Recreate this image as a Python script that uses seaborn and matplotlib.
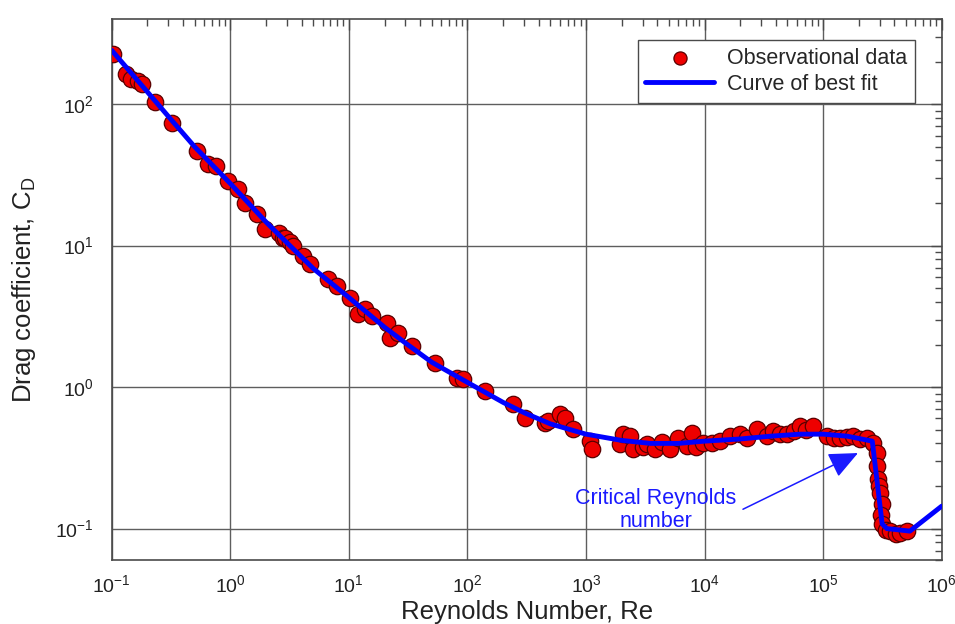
import matplotlib
matplotlib.use("Agg")
import matplotlib.pyplot as plt
import seaborn as sns
import pandas as pd
from matplotlib.ticker import FixedLocator, NullFormatter

# Measured drag coefficients of a sphere
re_obs = [0.102, 0.131, 0.145, 0.166, 0.179, 0.231, 0.321, 0.521, 0.645, 0.755,
          0.953, 1.16, 1.32, 1.67, 1.96, 2.57, 2.77, 2.88, 3.2, 3.37,
          4.09, 4.69, 6.65, 7.93, 10.2, 11.9, 13.6, 15.6, 20.9, 22.2,
          25.9, 34.0, 53.2, 81.5, 91.6, 141, 242, 306, 451, 480,
          604, 660, 777, 1080, 1125, 1940, 2050, 2350, 2490, 3000,
          3270, 3820, 4400, 5110, 5970, 7110, 7850, 8500, 9710, 11500,
          13500, 16400, 19900, 23000, 27700, 33700, 37800, 43000, 49700, 57000,
          64000, 72000, 82400, 108000, 124000, 139000, 158000, 179000, 205000, 235000,
          264000, 286000, 286000, 291000, 295000, 303000, 315000, 310000, 315000, 340000,
          368000, 410000, 447000, 512000]
cd_obs = [225, 163, 150, 145, 138, 103, 73, 47, 38, 36.5,
          28.6, 25, 20, 16.7, 13.1, 12.3, 11.3, 11.3, 10.6, 9.9,
          8.4, 7.4, 5.8, 5.17, 4.26, 3.28, 3.56, 3.17, 2.83, 2.22,
          2.41, 1.95, 1.48, 1.16, 1.14, 0.937, 0.758, 0.604, 0.557, 0.58,
          0.644, 0.60, 0.505, 0.415, 0.365, 0.396, 0.465, 0.451, 0.365, 0.38,
          0.396, 0.365, 0.41, 0.365, 0.436, 0.383, 0.474, 0.38, 0.402, 0.40,
          0.415, 0.451, 0.466, 0.44, 0.505, 0.451, 0.489, 0.47, 0.466, 0.49,
          0.530, 0.50, 0.530, 0.451, 0.44, 0.436, 0.445, 0.451, 0.43, 0.436,
          0.402, 0.342, 0.277, 0.224, 0.20, 0.178, 0.149, 0.125, 0.108, 0.098,
          0.096, 0.092, 0.093, 0.096]

# Curve of best fit, sampled along Re
re_fit = [0.1, 0.2, 0.3, 0.5, 1, 2, 3, 5, 10, 20, 30, 50, 100, 200, 300, 500,
          1000, 2000, 3500, 6000, 1e4, 2e4, 3.6e4, 6.4e4, 1e5, 1.6e5, 2.6e5,
          3.15e5, 3.45e5, 5.4e5, 1e6]
cd_fit = [240, 122, 82, 50, 27.5, 14.7, 10.5, 6.9, 4.3, 2.65, 2.05, 1.5, 1.08,
          0.78, 0.66, 0.55, 0.465, 0.42, 0.40, 0.40, 0.415, 0.43, 0.45, 0.465,
          0.465, 0.45, 0.415, 0.108, 0.100, 0.096, 0.144]

# Decade ticks shown on each axis
x_decades = [-1, 0, 1, 2, 3, 4, 5, 6]
y_decades = [-1, 0, 1, 2]

obs = pd.DataFrame({"Re": re_obs, "CD": cd_obs})
fit = pd.DataFrame({"Re": re_fit, "CD": cd_fit})

sns.set_theme(style="white")
plt.rcParams["font.family"] = ["Liberation Sans", "DejaVu Sans"]
plt.rcParams["mathtext.fontset"] = "custom"
plt.rcParams["mathtext.rm"] = "Liberation Sans"
plt.rcParams["mathtext.it"] = "Liberation Sans:italic"
plt.rcParams["mathtext.bf"] = "Liberation Sans:bold"

fig = plt.figure(figsize=(9.55, 6.24), dpi=100)
ax = fig.add_axes([0.117, 0.1026, 0.869, 0.867])

sns.scatterplot(data=obs, x="Re", y="CD", ax=ax, s=140, color="#ee0000",
                edgecolor="#5a0000", linewidth=0.9, zorder=3,
                label="Observational data")
sns.lineplot(data=fit, x="Re", y="CD", ax=ax, sort=False, estimator=None,
             color="#0000ff", linewidth=3.5, zorder=4, label="Curve of best fit")

ax.set_xscale("log")
ax.set_yscale("log")
ax.set_xlim(0.1, 1e6)
ax.set_ylim(0.06, 400)


def minor_positions(lo, hi, exps):
    vals = []
    for e in exps:
        for m in range(2, 10):
            v = m * 10.0 ** e
            if lo <= v <= hi:
                vals.append(v)
    return vals


ax.xaxis.set_major_locator(FixedLocator([10.0 ** e for e in x_decades]))
ax.yaxis.set_major_locator(FixedLocator([10.0 ** e for e in y_decades]))
ax.xaxis.set_minor_locator(FixedLocator(minor_positions(0.1, 1e6, range(-1, 6))))
ax.yaxis.set_minor_locator(FixedLocator(minor_positions(0.06, 400, range(-2, 3))))
ax.set_xticklabels([rf"$\mathregular{{10^{{{e}}}}}$" for e in x_decades])
ax.set_yticklabels([rf"$\mathregular{{10^{{{e}}}}}$" for e in y_decades])
ax.xaxis.set_minor_formatter(NullFormatter())
ax.yaxis.set_minor_formatter(NullFormatter())

ax.grid(True, which="major", color="#5e5e5e", linewidth=1.0)
ax.grid(False, which="minor")
for sp in ax.spines.values():
    sp.set_visible(True)
    sp.set_color("#4a4a4a")
    sp.set_linewidth(1.2)

ax.tick_params(which="both", direction="in", top=True, right=True,
               color="#4a4a4a", labelsize=14, labelcolor="#222222")
ax.tick_params(which="major", length=8, width=1.0)
ax.tick_params(axis="x", which="major", pad=10)
ax.tick_params(axis="y", which="major", pad=13)
ax.tick_params(which="minor", length=5, width=1.0)

ax.set_xlabel("Reynolds Number, Re", fontsize=18.5, color="#222222", labelpad=3)
ax.set_ylabel(r"Drag coefficient, C$_\mathrm{D}$", fontsize=18.5,
              color="#222222", labelpad=12)

ax.annotate("", xy=(197000, 0.342), xytext=(21100, 0.137),
            arrowprops=dict(arrowstyle="-|>,head_length=0.9,head_width=0.4",
                            color="#1a1aff", lw=1.1, mutation_scale=20,
                            shrinkA=0, shrinkB=0), zorder=5)
ax.text(3900, 0.135, "Critical Reynolds\nnumber", color="#1a1aff",
        fontsize=15.5, ha="center", va="center", multialignment="center",
        linespacing=1.15, zorder=5)

leg = ax.legend(loc="upper right", bbox_to_anchor=(0.9675, 0.961),
                borderaxespad=0, fontsize=15.5, frameon=True, fancybox=False,
                handlelength=3.2, handletextpad=0.6, labelspacing=0.25,
                borderpad=0.35, markerscale=0.8)
leg.get_frame().set_edgecolor("#4a4a4a")
leg.get_frame().set_linewidth(1.0)
leg.get_frame().set_facecolor("white")
leg.get_frame().set_alpha(1)

fig.savefig("out.png", dpi=100, facecolor="white")
